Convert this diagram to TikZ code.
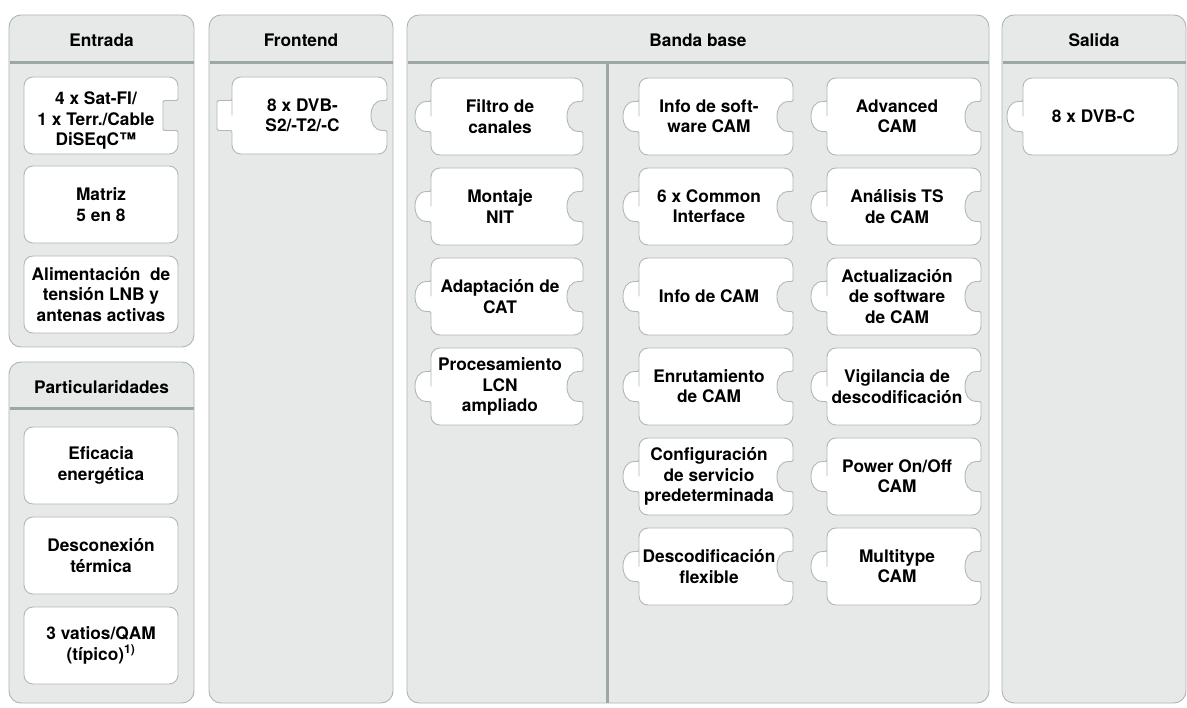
\documentclass[tikz,border=0pt]{standalone}
\usepackage{fontspec}
\setmainfont{TeX Gyre Heros}
\usetikzlibrary{calc}
\definecolor{panelfill}{HTML}{E6E9E8}
\definecolor{panelline}{HTML}{ADB5B5}
\definecolor{headline}{HTML}{9EA7A7}
\definecolor{pieceline}{HTML}{B0B8B8}
\tikzset{
	puzzle piece/.pic={
		\tikzset{%
			/piece/.cd,
			#1
		}
		\draw [pic actions, fill=white, draw=pieceline, line width=.9pt]
		(0,38.5) -- (0,9) .. controls (0,4) and (4,0) .. (9,0) -- (\piecew-9,0) .. controls (\piecew-4,0) and (\piecew,4) .. (\piecew,9)
		\pieceright -- (\piecew,68) .. controls (\piecew,73) and (\piecew-4,77) .. (\piecew-9,77)
		-- (9,77) .. controls (4,77) and (0,73) .. (0,68) \pieceleft -- cycle;
		\node [piece text] (txt) at (\piecew/2+\pieceoff,38.5+\piecedrop) {\piecetext};
	},
	/piece/.search also={/tikz},
	/piece/.cd,
	width/.store in=\piecew,
	caption/.store in=\piecetext,
	textshift/.store in=\pieceoff,
	textdrop/.store in=\piecedrop,
	left/.is choice,
	left/none/.code={\def\pieceleft{}},
	left/tab/.code={\def\pieceleft{-- (0,57.5) .. controls (0,53.5) .. (-4,53.5) .. controls (-13,53.5) and (-16,46) .. (-16,38.5) .. controls (-16,31) and (-13,23.5) .. (-4,23.5) .. controls (0,23.5) .. (0,19.5)}\def\pieceoff{-7}},
	left/block/.code={\def\pieceleft{-- (0,57.5) .. controls (0,53.5) .. (-4,53.5) -- (-11,53.5) .. controls (-15,53.5) .. (-15,49.5) -- (-15,27.5) .. controls (-15,23.5) .. (-11,23.5) -- (-4,23.5) .. controls (0,23.5) .. (0,19.5)}\def\pieceoff{-7}},
	right/.is choice,
	right/none/.code={\def\pieceright{}},
	right/notch/.code={\def\pieceright{-- (\piecew,19.5) .. controls (\piecew,23.5) .. (\piecew-4,23.5) .. controls (\piecew-13,23.5) and (\piecew-16,31) .. (\piecew-16,38.5) .. controls (\piecew-16,46) and (\piecew-13,53.5) .. (\piecew-4,53.5) .. controls (\piecew,53.5) .. (\piecew,57.5)}},
	right/block/.code={\def\pieceright{-- (\piecew,19.5) .. controls (\piecew,23.5) .. (\piecew-4,23.5) -- (\piecew-11,23.5) .. controls (\piecew-15,23.5) .. (\piecew-15,27.5) -- (\piecew-15,49.5) .. controls (\piecew-15,53.5) .. (\piecew-11,53.5) -- (\piecew-4,53.5) .. controls (\piecew,53.5) .. (\piecew,57.5)}},
	width=154,
	caption={},
	textshift=0,
	textdrop=0,
	left=none,
	right=none,
}
\tikzset{
	panel/.style={draw=panelline, fill=panelfill, line width=.9pt, rounded corners=12pt},
	headrule/.style={draw=headline, line width=3.3pt},
	head/.style={anchor=base, inner sep=0pt, font=\fontsize{17.3}{20}\selectfont\bfseries},
	piece text/.style={align=center, inner sep=0pt, font=\fontsize{17.3}{20.3}\selectfont\bfseries},
}
\begin{document}
\begin{tikzpicture}[x=1pt,y=-1pt]
		\useasboundingbox (0,0) rectangle (1187,708);
		% panels
		\draw[panel] (9,15) rectangle (194,347);
		\draw[panel] (9,362) rectangle (194,703);
		\draw[panel] (209,15) rectangle (393,703);
		\draw[panel] (407,15) rectangle (989,703);
		\draw[panel] (1002,15) rectangle (1186,703);
		\draw[headrule] (9.5,62.5) -- (193.5,62.5);
		\draw[headrule] (9.5,408.5) -- (193.5,408.5);
		\draw[headrule] (209.5,62.5) -- (392.5,62.5);
		\draw[headrule] (407.5,62.5) -- (988.5,62.5);
		\draw[headrule] (1002.5,62.5) -- (1185.5,62.5);
		\draw[headrule] (607.5,62.5) -- (607.5,702.5);
		\node[head] (entrada) at (101.5,46.5) {Entrada};
		\node[head] (partic) at (101.5,393.5) {Particularidades};
		\node[head] (frontend) at (301,46.5) {Frontend};
		\node[head] (banda) at (698,46.5) {Banda base};
		\node[head] (salida) at (1094,46.5) {Salida};
		% Entrada
		\pic (sat) at (24,77) {puzzle piece={right=block, textshift=-5, textdrop=5, caption={4 x Sat-FI/\\1 x Terr./Cable\\DiSEqC™}}};
		\pic (matriz) at (24,166) {puzzle piece={caption={Matriz\\5 en 8}}};
		\pic (lnb) at (24,256) {puzzle piece={caption={Alimentación\ \ de\\tensión LNB y\\antenas activas}}};
		% Particularidades
		\pic (eficacia) at (24,427) {puzzle piece={caption={Eficacia\\energética}}};
		\pic (descon) at (24,517) {puzzle piece={caption={Desconexión\\térmica}}};
		\pic (vatios) at (24,607) {puzzle piece={caption={3 vatios/QAM\\(típico)\textsuperscript{1)}}}};
		% Frontend
		\pic (dvbs) at (232,77) {puzzle piece={width=155, left=block, right=notch, caption={8 x DVB-\\S2/-T2/-C}}};
		% Banda base
		\pic (filtro) at (431,78) {puzzle piece={width=152, left=tab, right=notch, caption={Filtro de\\canales}}};
		\pic (nit) at (431,168) {puzzle piece={width=152, left=tab, right=notch, caption={Montaje\\NIT}}};
		\pic (cat) at (431,258) {puzzle piece={width=152, left=tab, right=notch, caption={Adaptación de\\CAT}}};
		\pic (lcn) at (431,348) {puzzle piece={width=152, left=tab, right=notch, caption={Procesamiento\\LCN\\ampliado}}};
		\pic (swinfo) at (639,78) {puzzle piece={left=tab, right=notch, caption={Info de soft-\\ware CAM}}};
		\pic (ci) at (639,168) {puzzle piece={left=tab, right=notch, caption={6 x Common\\Interface}}};
		\pic (caminfo) at (639,258) {puzzle piece={left=tab, right=notch, caption={Info de CAM}}};
		\pic (routing) at (639,348) {puzzle piece={left=tab, right=notch, caption={Enrutamiento\\de CAM}}};
		\pic (config) at (639,438) {puzzle piece={left=tab, right=notch, caption={Configuración\\de servicio\\predeterminada}}};
		\pic (flex) at (639,528) {puzzle piece={left=tab, right=notch, caption={Descodificación\\flexible}}};
		\pic (advcam) at (827,78) {puzzle piece={left=tab, right=notch, caption={Advanced\\CAM}}};
		\pic (tscam) at (827,168) {puzzle piece={left=tab, right=notch, caption={Análisis TS\\de CAM}}};
		\pic (swupd) at (827,258) {puzzle piece={left=tab, right=notch, caption={Actualización\\de software\\de CAM}}};
		\pic (watch) at (827,348) {puzzle piece={left=tab, right=notch, caption={Vigilancia de\\descodificación}}};
		\pic (power) at (827,438) {puzzle piece={left=tab, right=notch, caption={Power On/Off\\CAM}}};
		\pic (multi) at (827,528) {puzzle piece={left=tab, right=notch, caption={Multitype\\CAM}}};
		% Salida
		\pic (dvbc) at (1023,78) {puzzle piece={width=155, left=tab, caption={8 x DVB-C}}};
	\end{tikzpicture}
\end{document}
